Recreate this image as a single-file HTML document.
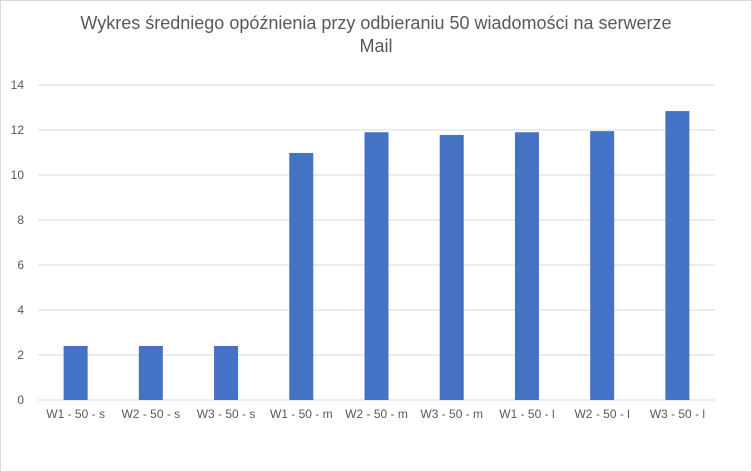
<!DOCTYPE html>
<html><head><meta charset="utf-8">
<style>
html,body{margin:0;padding:0;background:#fff;}
body{width:752px;height:472px;overflow:hidden;font-family:"Liberation Sans","DejaVu Sans",sans-serif;}
#frame{position:absolute;left:0;top:0;width:750px;height:470px;border:1px solid #d9d9d9;}
</style></head>
<body>
<div id="frame"></div>
<svg id="chart" width="752" height="472" style="position:absolute;left:0;top:0">
<text x="376" y="29" text-anchor="middle" font-size="18" fill="#595959">Wykres średniego opóźnienia przy odbieraniu 50 wiadomości na serwerze</text>
<text x="376" y="52" text-anchor="middle" font-size="18" fill="#595959">Mail</text>
<g id="grid"></g><g id="bars"></g><g id="xlabels"></g><g id="ylabels"></g>
</svg>
<script>
const categories=["W1 - 50 - s","W2 - 50 - s","W3 - 50 - s","W1 - 50 - m","W2 - 50 - m","W3 - 50 - m","W1 - 50 - l","W2 - 50 - l","W3 - 50 - l"];
const values=[2.4,2.4,2.4,10.98,11.9,11.78,11.9,11.95,12.84];
const yTicks=[0,2,4,6,8,10,12,14];
const NS="http://www.w3.org/2000/svg";
const plotL=38,plotR=715,y0=400,yTop=85,yMax=14;
const y=v=>y0-(v/yMax)*(y0-yTop);
const band=(plotR-plotL)/categories.length;
const x=i=>plotL+band*(i+0.5);
function mk(t,a,p){const e=document.createElementNS(NS,t);for(const k in a)e.setAttribute(k,a[k]);p.appendChild(e);return e;}
const grid=document.getElementById('grid'),bars=document.getElementById('bars'),xl=document.getElementById('xlabels'),yl=document.getElementById('ylabels');
yTicks.forEach(t=>{
  const l=mk('line',{x1:plotL,x2:plotR,y1:y(t),y2:y(t),stroke:'#d9d9d9','stroke-width':1},grid);
  
  
  const tx=mk('text',{x:24,y:y(t)+4,'text-anchor':'end','font-size':12,fill:'#595959'},yl);
  tx.textContent=t;
  
  
});
categories.forEach((c,i)=>{
  const w=24;
  const r=mk('rect',{x:x(i)-w/2,y:y(values[i]),width:w,height:y0-y(values[i]),fill:'#4472c4'},bars);
  
  
  const tx=mk('text',{x:x(i),y:418,'text-anchor':'middle','font-size':12,fill:'#595959'},xl);
  tx.textContent=c;
  
  
});
</script>
</body></html>
